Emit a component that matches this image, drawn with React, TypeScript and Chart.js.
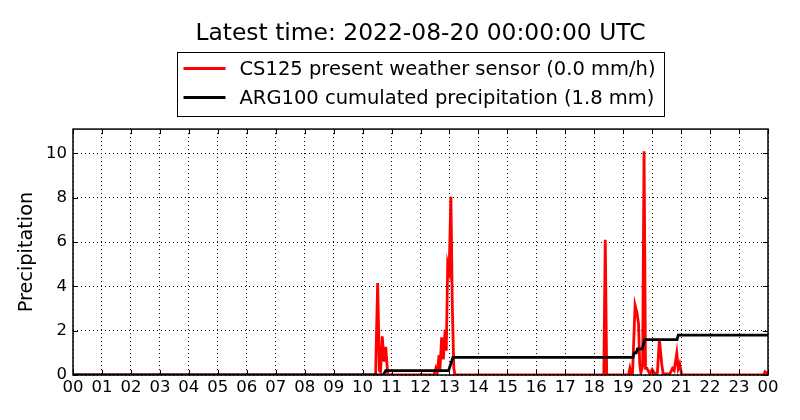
import React, { useEffect, useRef } from "react";
import { Chart, registerables, Plugin } from "chart.js";

Chart.register(...registerables);

const TITLE = "Latest time: 2022-08-20 00:00:00 UTC";
const RATE_LABEL = "CS125 present weather sensor (0.0 mm/h)";
const CUM_LABEL = "ARG100 cumulated precipitation (1.8 mm)";

// CS125 precipitation rate (mm/h), hours since 00 UTC
const rateHours = [
  0, 10.45, 10.52, 10.58, 10.62, 10.68, 10.74, 10.8, 10.87,
  12.47, 12.53, 12.58, 12.64, 12.67, 12.73, 12.79, 12.85, 12.89, 12.94, 12.99, 13.05, 13.1, 13.15, 13.19,
  18.33, 18.38, 18.43,
  19.18, 19.23, 19.28, 19.32, 19.41, 19.48, 19.53, 19.57, 19.61, 19.67, 19.72, 19.77, 19.82, 19.92,
  20.0, 20.1, 20.18, 20.25, 20.33, 20.38, 20.61, 20.7, 20.76, 20.85, 20.9, 20.95, 21.02,
  23.85, 23.9, 23.95, 24,
];
const rateValues = [
  0, 0, 4.15, 0.2, 0.15, 1.75, 0.6, 1.27, 0,
  0, 0.3, 0.1, 0.9, 0.2, 1.7, 0.7, 2.05, 1.1, 5.0, 4.7, 8.05, 3.0, 0.3, 0,
  0, 6.1, 0,
  0, 0.3, 0, 0, 3.15, 2.78, 2.3, 0.5, 0.1, 0.4, 10.1, 0.3, 0.3, 0.05,
  0.25, 0.05, 0.1, 1.6, 0.5, 0.05, 0.05, 0.3, 0.2, 0.98, 0.3, 0.5, 0,
  0, 0.15, 0.1, 0.05,
];

// ARG100 cumulated precipitation (mm)
const cumHours = [0, 10.72, 10.8, 12.97, 13.12, 19.34, 19.38, 19.45, 19.49, 19.66, 19.74, 20.86, 20.9, 24];
const cumValues = [0, 0, 0.2, 0.2, 0.8, 0.8, 1.0, 1.0, 1.18, 1.18, 1.6, 1.6, 1.8, 1.8];

const hourTicks = [0, 1, 2, 3, 4, 5, 6, 7, 8, 9, 10, 11, 12, 13, 14, 15, 16, 17, 18, 19, 20, 21, 22, 23, 24];
const hourLabels = [
  "00", "01", "02", "03", "04", "05", "06", "07", "08", "09", "10", "11",
  "12", "13", "14", "15", "16", "17", "18", "19", "20", "21", "22", "23", "00",
];
const yTicks = [0, 2, 4, 6, 8, 10];

const FONT = "'DejaVu Sans', sans-serif";

const frameLegend: Plugin<"line"> = {
  id: "frameLegend",
  afterDraw(chart) {
    const { ctx, chartArea: a, scales } = chart;
    ctx.save();
    ctx.strokeStyle = "#000";
    ctx.lineWidth = 1;
    ctx.beginPath();
    for (const t of scales.x.ticks) {
      const px = Math.round(scales.x.getPixelForValue(t.value)) + 0.5;
      ctx.moveTo(px, a.bottom);
      ctx.lineTo(px, a.bottom - 5);
      ctx.moveTo(px, a.top);
      ctx.lineTo(px, a.top + 5);
    }
    for (const t of scales.y.ticks) {
      const py = Math.round(scales.y.getPixelForValue(t.value)) + 0.5;
      ctx.moveTo(a.left, py);
      ctx.lineTo(a.left + 5, py);
      ctx.moveTo(a.right, py);
      ctx.lineTo(a.right - 5, py);
    }
    ctx.stroke();
    ctx.lineWidth = 1.5;
    ctx.strokeRect(a.left, a.top, a.right - a.left, a.bottom - a.top);

    // legend box, matplotlib style
    ctx.font = `19.5px ${FONT}`;
    const sets = chart.data.datasets;
    const textW = Math.max(...sets.map((d) => ctx.measureText(d.label || "").width));
    const w = 6 + 42 + 14 + textW + 9;
    const left = Math.round((a.left + a.right) / 2 - w / 2) + 0.5;
    const top = 52.5;
    ctx.fillStyle = "#fff";
    ctx.fillRect(left, top, w, 64);
    ctx.lineWidth = 1;
    ctx.strokeRect(left, top, w, 64);
    sets.forEach((d, i) => {
      const y = 68.5 + i * 29;
      ctx.strokeStyle = d.borderColor as string;
      ctx.lineWidth = 2.8;
      ctx.beginPath();
      ctx.moveTo(left + 6, y);
      ctx.lineTo(left + 48, y);
      ctx.stroke();
      ctx.fillStyle = "#000";
      ctx.textBaseline = "middle";
      ctx.textAlign = "left";
      ctx.fillText(d.label || "", left + 62, y + 1.5);
    });
    ctx.restore();
  },
};

const App: React.FC = () => {
  const chart = useRef<Chart<"line">>();
  const canvas = useRef<HTMLCanvasElement>(null);

  useEffect(() => {
    chart.current = new Chart(canvas.current!.getContext("2d")!, {
      type: "line",
      data: {
        datasets: [
          {
            label: RATE_LABEL,
            data: rateHours.map((h, i) => ({ x: h, y: rateValues[i] })),
            borderColor: "#ff0000",
            borderWidth: 2.8,
            pointRadius: 0,
            tension: 0,
            order: 1,
          },
          {
            label: CUM_LABEL,
            data: cumHours.map((h, i) => ({ x: h, y: cumValues[i] })),
            borderColor: "#000000",
            borderWidth: 2.8,
            pointRadius: 0,
            tension: 0,
            order: 0,
          },
        ],
      },
      options: {
        responsive: true,
        maintainAspectRatio: false,
        animation: false,
        layout: { padding: { left: 0, right: 32, top: 0, bottom: 0 } },
        plugins: {
          legend: { display: false },
          tooltip: { enabled: false },
          title: {
            display: true,
            text: TITLE,
            fullSize: false,
            color: "#000",
            font: { family: FONT, size: 23.4, weight: "normal" },
            padding: { top: 20, bottom: 81 },
          },
        },
        scales: {
          x: {
            type: "linear",
            min: 0,
            max: 24,
            afterFit: (s) => {
              s.height = 45;
            },
            afterBuildTicks: (s) => {
              s.ticks = hourTicks.map((v) => ({ value: v }));
            },
            ticks: {
              autoSkip: false,
              maxRotation: 0,
              padding: 3,
              color: "#000",
              font: { family: FONT, size: 16.5 },
              callback: (_v, i) => hourLabels[i],
            },
            grid: { color: "#000", lineWidth: 1, drawTicks: false },
            border: { display: false, dash: [1, 3] },
          },
          y: {
            min: 0,
            max: 11.1,
            afterFit: (s) => {
              s.width = 73;
            },
            afterBuildTicks: (s) => {
              s.ticks = yTicks.map((v) => ({ value: v }));
            },
            ticks: {
              padding: 6,
              color: "#000",
              font: { family: FONT, size: 16.5 },
              callback: (v) => String(v),
            },
            title: {
              display: true,
              text: "Precipitation",
              color: "#000",
              font: { family: FONT, size: 19.3 },
              padding: { top: 15, bottom: 0 },
            },
            grid: { color: "#000", lineWidth: 1, drawTicks: false },
            border: { display: false, dash: [1, 3] },
          },
        },
      },
      plugins: [frameLegend],
    });

    return () => {
      chart.current?.destroy();
    };
  }, []);

  return (
    <div style={{ position: "fixed", left: 0, top: 0, width: 800, height: 420, background: "#fff" }}>
      <canvas ref={canvas}></canvas>
    </div>
  );
};

export default App;
